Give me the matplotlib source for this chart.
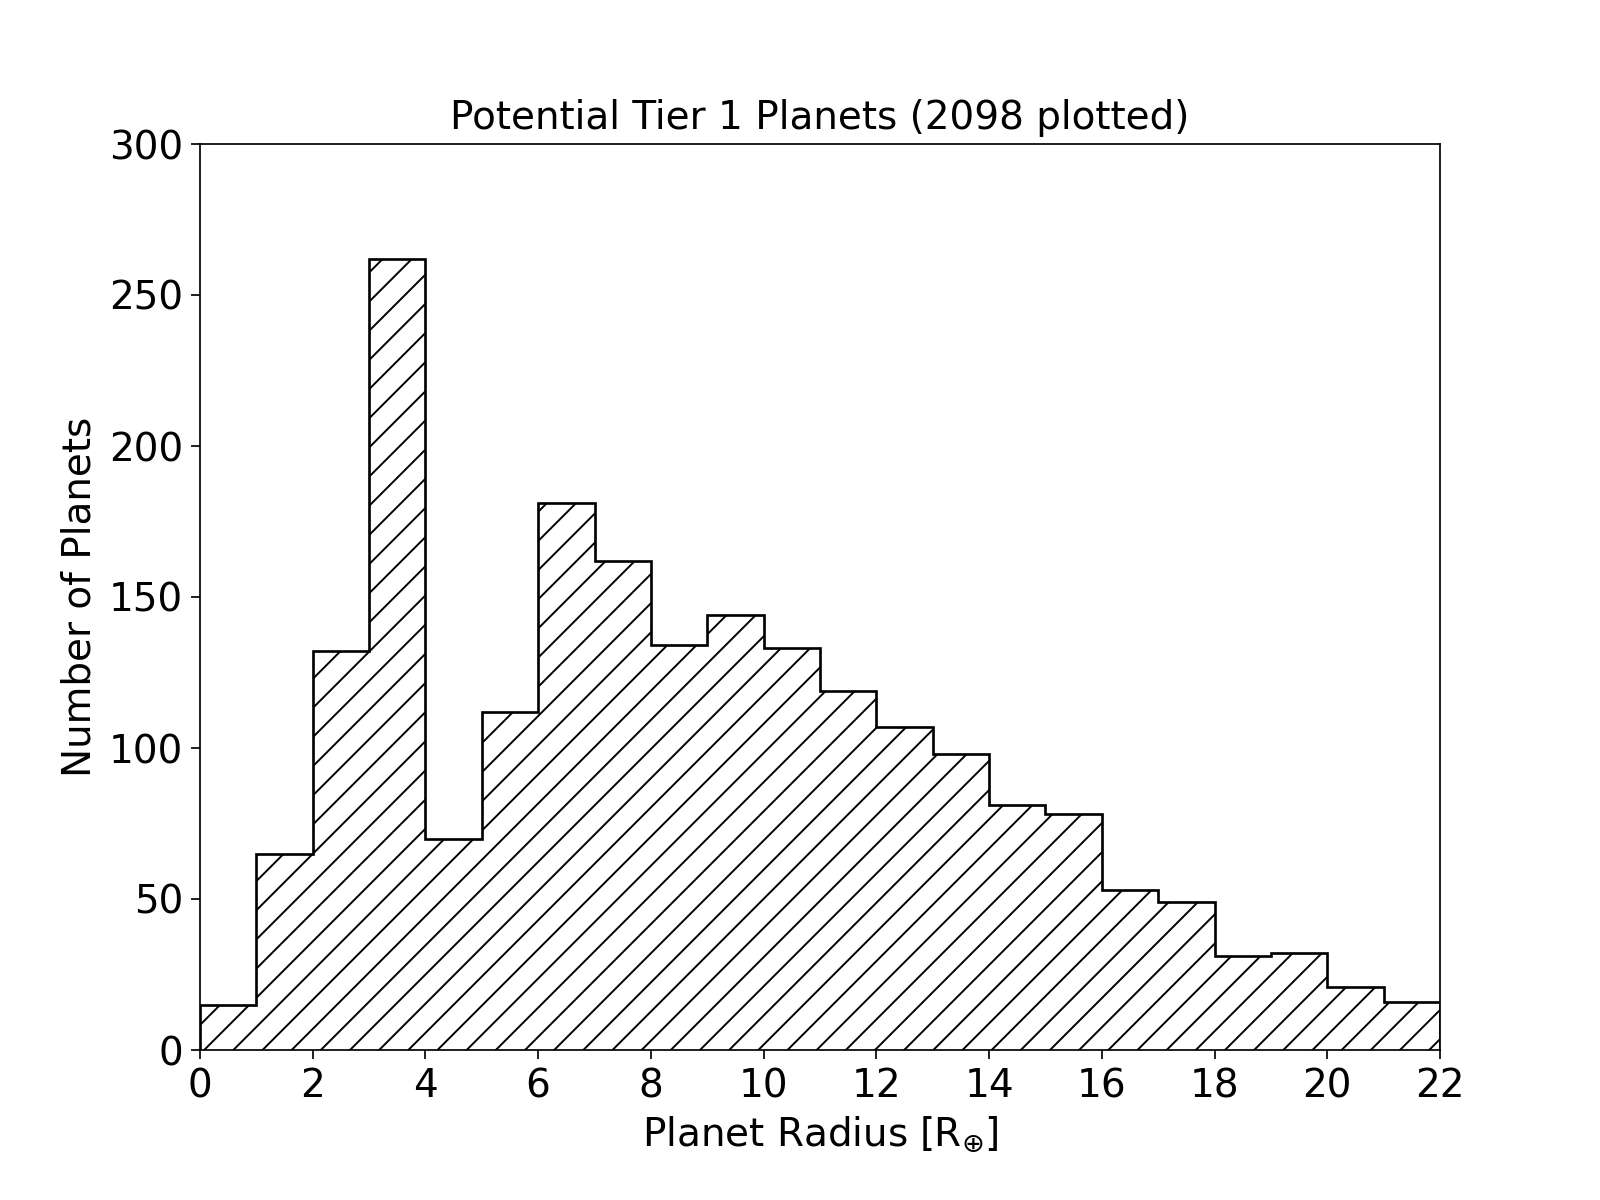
import matplotlib
matplotlib.use('Agg')
import matplotlib.pyplot as plt
import numpy as np

plt.rcParams.update({'font.size': 16})
plt.rcParams.update({'hatch.linewidth': 0.8})
plt.rcParams.update({'axes.linewidth': 0.7})

# counts per 1 R_earth bin
edges = np.arange(0, 23, 1)
counts = [15, 65, 132, 262, 70, 112, 181, 162, 134, 144, 133,
          119, 107, 98, 81, 78, 53, 49, 31, 32, 21, 16]

fig = plt.figure(figsize=(1600/175., 1200/175.), dpi=175)
ax = fig.add_subplot(111)
fig.subplots_adjust(left=0.125, right=0.9, top=0.88, bottom=0.125)

ax.hist(edges[:-1], bins=edges, weights=counts, histtype='step',
        hatch='//', color='k', linewidth=1.1)

ax.set_xlim(0, 22)
ax.set_ylim(0, 300)
ax.set_xticks(np.arange(0, 23, 2))
ax.set_yticks(np.arange(0, 301, 50))
ax.tick_params(width=0.7)

ax.set_title('Potential Tier 1 Planets (2098 plotted)', fontsize=16)
ax.set_xlabel(r'Planet Radius [R$_{\oplus}$]')
ax.set_ylabel('Number of Planets')

plt.savefig('out.png', dpi=175)
